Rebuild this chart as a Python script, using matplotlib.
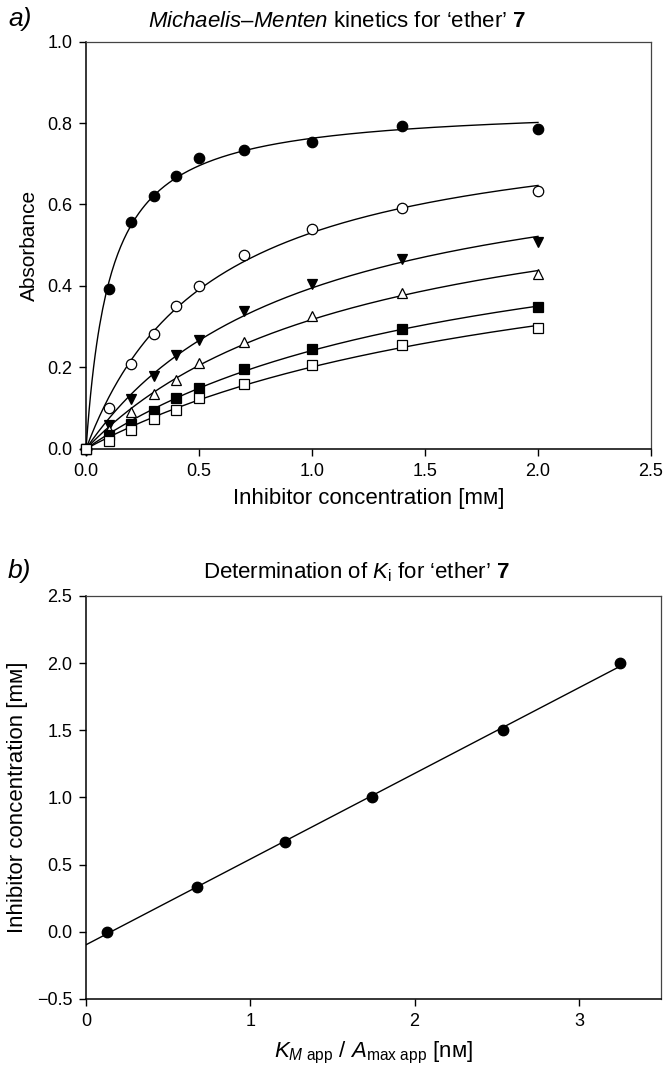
import matplotlib
matplotlib.use("Agg")
import matplotlib.pyplot as plt
import numpy as np

plt.rcParams['font.family'] = ['Liberation Sans', 'DejaVu Sans']
plt.rcParams['mathtext.fontset'] = 'custom'
plt.rcParams['mathtext.rm'] = 'Liberation Sans'
plt.rcParams['mathtext.it'] = 'Liberation Sans:italic'
plt.rcParams['mathtext.bf'] = 'Liberation Sans:bold'

# --- panel a: absorbance vs inhibitor concentration, six series ---
conc = [0.0, 0.1, 0.2, 0.3, 0.4, 0.5, 0.7, 1.0, 1.4, 2.0]
abs_filled_circle = [0.0, 0.392, 0.556, 0.621, 0.670, 0.713, 0.733, 0.754, 0.792, 0.786]
abs_open_circle = [0.0, 0.100, 0.209, 0.283, 0.351, 0.399, 0.475, 0.539, 0.592, 0.632]
abs_filled_tri = [0.0, 0.058, 0.122, 0.178, 0.230, 0.268, 0.338, 0.405, 0.465, 0.508]
abs_open_tri = [0.0, 0.045, 0.090, 0.135, 0.168, 0.210, 0.262, 0.325, 0.383, 0.428]
abs_filled_sq = [0.0, 0.035, 0.062, 0.093, 0.125, 0.150, 0.196, 0.245, 0.293, 0.348]
abs_open_sq = [0.0, 0.020, 0.045, 0.073, 0.095, 0.125, 0.160, 0.205, 0.256, 0.296]

# --- panel b: inhibitor concentration vs KM/Amax ---
km_over_amax = [0.128, 0.674, 1.209, 1.743, 2.538, 3.248]
inhib_conc = [0.0, 0.333, 0.667, 1.0, 1.5, 2.0]


def mm_fit(x, y):
    # least squares Michaelis-Menten fit: scan Km, solve Amax linearly
    x = np.asarray(x)
    y = np.asarray(y)
    best = None
    for km in np.linspace(0.01, 10, 20000):
        f = x / (km + x)
        amax = np.sum(y * f) / np.sum(f * f)
        res = np.sum((y - amax * f) ** 2)
        if best is None or res < best[0]:
            best = (res, km, amax)
    return best[1], best[2]


fig = plt.figure(figsize=(6.67, 10.66), dpi=100)

ax1 = fig.add_axes([0.129, 0.579, 0.847, 0.382])
series = [
    (abs_filled_circle, 'o', 'black'),
    (abs_open_circle, 'o', 'white'),
    (abs_filled_tri, 'v', 'black'),
    (abs_open_tri, '^', 'white'),
    (abs_filled_sq, 's', 'black'),
    (abs_open_sq, 's', 'white'),
]
xs = np.linspace(0, max(conc), 300)
for ys, mk, fc in series:
    km, amax = mm_fit(conc, ys)
    ax1.plot(xs, amax * xs / (km + xs), color='black', lw=1.0, zorder=2)
for ys, mk, fc in series:
    ax1.plot(conc, ys, linestyle='none', marker=mk, markersize=7.5,
             markerfacecolor=fc, markeredgecolor='black', markeredgewidth=0.9,
             zorder=3, clip_on=False)

ax1.set_xlim(0, 2.5)
ax1.set_ylim(0, 1.0)
ax1.set_xticks(np.arange(0, 2.51, 0.5))
ax1.set_yticks(np.arange(0, 1.01, 0.2))
ax1.xaxis.set_major_formatter(matplotlib.ticker.FormatStrFormatter('%.1f'))
ax1.yaxis.set_major_formatter(matplotlib.ticker.FormatStrFormatter('%.1f'))
ax1.set_xlabel('Inhibitor concentration [m\u1d0d]', fontsize=16, labelpad=6)
ax1.set_ylabel('Absorbance', fontsize=15, labelpad=6)

ax2 = fig.add_axes([0.129, 0.063, 0.862, 0.378])
slope, icpt = np.polyfit(km_over_amax, inhib_conc, 1)
xl = np.linspace(0, max(km_over_amax), 50)
ax2.plot(xl, slope * xl + icpt, color='black', lw=1.0, zorder=2)
ax2.plot(km_over_amax, inhib_conc, linestyle='none', marker='o', markersize=7.5,
         color='black', zorder=3)
ax2.set_xlim(0, 3.5)
ax2.set_ylim(-0.5, 2.5)
ax2.set_xticks([0, 1, 2, 3])
ax2.set_yticks(np.arange(-0.5, 2.51, 0.5))
ax2.yaxis.set_major_formatter(matplotlib.ticker.FuncFormatter(
    lambda v, p: ('\u2212%.1f' % abs(v)) if v < 0 else '%.1f' % v))
ax2.set_xlabel(r'$K_{M\ \mathrm{app}}$ / $A_{\mathrm{max\ app}}$ [n' + '\u1d0d]',
               fontsize=16, labelpad=7)
ax2.set_ylabel('Inhibitor concentration [m\u1d0d]', fontsize=16, labelpad=6)

for ax in (ax1, ax2):
    ax.tick_params(direction='out', length=5, width=1, labelsize=13, pad=5,
                   top=False, right=False)
    for sp in ('left', 'bottom'):
        ax.spines[sp].set_linewidth(1.1)
    for sp in ('top', 'right'):
        ax.spines[sp].set_linewidth(0.9)
        ax.spines[sp].set_color('#444444')

fig.text(0.505, 0.980, r'$\mathit{Michaelis}$' + '\u2013' + r'$\mathit{Menten}$ kinetics for ‘ether’ $\mathbf{7}$',
         ha='center', va='center', fontsize=16)
fig.text(0.535, 0.463, r'Determination of $K_{\mathrm{i}}$ for ‘ether’ $\mathbf{7}$',
         ha='center', va='center', fontsize=16)
fig.text(0.012, 0.982, 'a)', fontsize=19, style='italic', va='center')
fig.text(0.012, 0.464, 'b)', fontsize=19, style='italic', va='center')

fig.savefig('out.png', dpi=100)
